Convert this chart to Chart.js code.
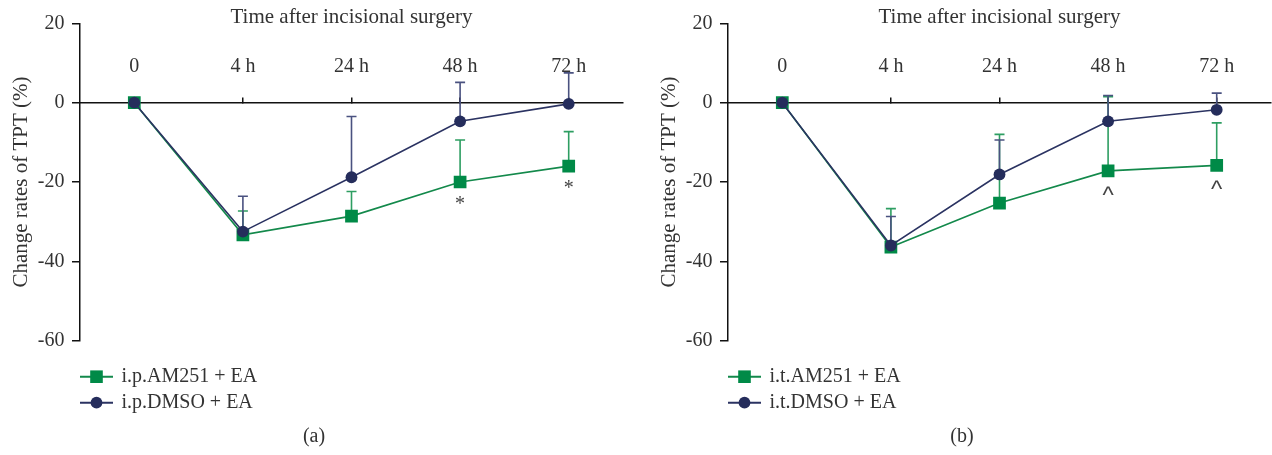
<!DOCTYPE html>
<html>
<head>
<meta charset="utf-8">
<script src="https://cdn.jsdelivr.net/npm/chart.js@4.4.1/dist/chart.umd.min.js"></script>
<style>
  html, body { margin: 0; padding: 0; background: #fff; overflow: hidden; width: 1272px; height: 455px; position: relative; }
  .panel { position: absolute; top: 0; width: 632px; height: 455px; }
  #panelA { left: 0; }
  #panelB { left: 648px; }
</style>
</head>
<body>
<div class="panel" id="panelA"><canvas id="chartA"></canvas></div>
<div class="panel" id="panelB"><canvas id="chartB"></canvas></div>
<script>
// Time points after incisional surgery
const timePoints = ['0', '4 h', '24 h', '48 h', '72 h'];
const yTickValues = [-60, -40, -20, 0, 20];

// (a) intraperitoneal injection: mean change rate of TPT (%) and upper SD
const ipAM251 = [0, -33.3, -28.6, -20.0, -16.0];
const ipAM251Err = [0, 6.0, 6.2, 10.6, 8.7];
const ipDMSO = [0, -32.5, -18.8, -4.7, -0.3];
const ipDMSOErr = [0, 8.9, 15.3, 9.8, 7.8];
const ipMarks = ['', '', '', '*', '*'];

// (b) intrathecal injection
const itAM251 = [0, -36.4, -25.3, -17.2, -15.8];
const itAM251Err = [0, 9.7, 17.3, 18.7, 10.7];
const itDMSO = [0, -36.0, -18.1, -4.7, -1.8];
const itDMSOErr = [0, 7.3, 8.7, 6.5, 4.2];
const itMarks = ['', '', '', '^', '^'];

const SERIF = "'Liberation Serif', 'DejaVu Serif', serif";
const TEXT = '#333333';
const GREEN = '#008a47';
const GREEN_LINE = '#13894b';
const GREEN_ERR = '#2e9e62';
const NAVY = '#252d5c';
const NAVY_LINE = '#2b3362';
const NAVY_ERR = '#4a5280';

Chart.defaults.font.family = SERIF;
Chart.defaults.color = TEXT;

// Upper error bars with caps, drawn beneath the markers
const errorBarPlugin = {
  id: 'errorBars',
  beforeDatasetsDraw(chart, args, opts) {
    const ctx = chart.ctx;
    const xs = chart.scales.x, ys = chart.scales.y;
    ctx.save();
    opts.errors.forEach((errs, i) => {
      const data = chart.data.datasets[i].data;
      ctx.strokeStyle = opts.colors[i];
      ctx.lineWidth = 1.6;
      errs.forEach((e, j) => {
        if (!e) return;
        const x = xs.getPixelForValue(j);
        const y0 = ys.getPixelForValue(data[j]);
        const y1 = ys.getPixelForValue(data[j] + e);
        ctx.beginPath();
        ctx.moveTo(x, y0);
        ctx.lineTo(x, y1);
        ctx.moveTo(x - 5, y1);
        ctx.lineTo(x + 5, y1);
        ctx.stroke();
      });
    });
    ctx.restore();
  }
};

// Significance marks placed below the first series
const sigMarkPlugin = {
  id: 'sigMarks',
  afterDatasetsDraw(chart, args, opts) {
    const ctx = chart.ctx;
    const xs = chart.scales.x, ys = chart.scales.y;
    const data = chart.data.datasets[0].data;
    ctx.save();
    ctx.fillStyle = opts.color;
    ctx.font = opts.font;
    ctx.textAlign = 'center';
    ctx.textBaseline = 'alphabetic';
    opts.text.forEach((t, j) => {
      if (!t) return;
      ctx.fillText(t, xs.getPixelForValue(j), ys.getPixelForValue(data[j]) + opts.offset);
    });
    ctx.restore();
  }
};

// Line-and-marker legend stacked under the plot
const stackedLegendPlugin = {
  id: 'stackedLegend',
  afterDraw(chart, args, opts) {
    const ctx = chart.ctx;
    const left = chart.chartArea.left;
    ctx.save();
    chart.data.datasets.forEach((ds, i) => {
      const y = chart.chartArea.bottom + opts.top + i * opts.rowGap;
      ctx.strokeStyle = ds.borderColor;
      ctx.lineWidth = 2;
      ctx.beginPath();
      ctx.moveTo(left, y);
      ctx.lineTo(left + 33, y);
      ctx.stroke();
      ctx.fillStyle = ds.pointBackgroundColor;
      const cx = left + 16.5;
      if (ds.pointStyle === 'rect') {
        ctx.fillRect(cx - 6.3, y - 6.3, 12.6, 12.6);
      } else {
        ctx.beginPath();
        ctx.arc(cx, y, 5.9, 0, Math.PI * 2);
        ctx.fill();
      }
      ctx.fillStyle = TEXT;
      ctx.font = '20px ' + SERIF;
      ctx.textAlign = 'left';
      ctx.textBaseline = 'middle';
      ctx.fillText(ds.label, left + 41.5, y);
    });
    ctx.restore();
  }
};

function makeChart(canvasId, names, series, errors, marks, panelLabel, markFont, markOffset) {
  return new Chart(document.getElementById(canvasId), {
    type: 'line',
    data: {
      labels: timePoints,
      datasets: [
        {
          label: names[0], data: series[0], order: 2,
          borderColor: GREEN_LINE, borderWidth: 1.6,
          pointStyle: 'rect', pointRadius: 9, pointBorderWidth: 0,
          pointBackgroundColor: GREEN, backgroundColor: GREEN, tension: 0
        },
        {
          label: names[1], data: series[1], order: 1,
          borderColor: NAVY_LINE, borderWidth: 1.6,
          pointStyle: 'circle', pointRadius: 5.9, pointBorderWidth: 0,
          pointBackgroundColor: NAVY, backgroundColor: NAVY, tension: 0
        }
      ]
    },
    options: {
      responsive: true,
      maintainAspectRatio: false,
      animation: false,
      events: [],
      layout: { padding: { left: 0, right: 4, top: 0, bottom: 0 } },
      scales: {
        x: {
          type: 'category',
          position: { y: 0 },
          offset: true,
          grid: { display: true, drawOnChartArea: false, drawTicks: true, tickLength: -6, offset: false, color: '#111', lineWidth: 1.5 },
          border: { display: true, color: '#111', width: 1.5 },
          ticks: { padding: -41.7, maxRotation: 0, autoSkip: false, color: TEXT, font: { size: 20 } }
        },
        y: {
          min: -60, max: 20,
          afterFit(scale) { scale.width = 80; },
          afterBuildTicks(scale) { scale.ticks = yTickValues.map(v => ({ value: v })); },
          grid: { display: true, drawOnChartArea: false, drawTicks: true, tickLength: 8, color: '#111', lineWidth: 1.5 },
          border: { display: true, color: '#111', width: 1.5 },
          ticks: { padding: 7.5, color: TEXT, font: { size: 20 } },
          title: { display: true, text: 'Change rates of TPT (%)', color: TEXT, font: { size: 21 }, padding: { top: 8.4, bottom: 0 } }
        }
      },
      plugins: {
        legend: { display: false },
        tooltip: { enabled: false },
        title: {
          display: true, text: 'Time after incisional surgery', position: 'top', fullSize: false,
          color: TEXT, font: { size: 21, weight: 'normal' }, padding: { top: 4.4, bottom: -6.3 }
        },
        subtitle: {
          display: true, text: panelLabel, position: 'bottom',
          color: TEXT, font: { size: 20, weight: 'normal' }, padding: { top: 84.3, bottom: 6 }
        },
        errorBars: { errors: errors, colors: [GREEN_ERR, NAVY_ERR] },
        sigMarks: { text: marks, color: '#444', font: markFont, offset: markOffset },
        stackedLegend: { top: 36, rowGap: 26 }
      }
    },
    plugins: [errorBarPlugin, sigMarkPlugin, stackedLegendPlugin]
  });
}

makeChart('chartA', ['i.p.AM251 + EA', 'i.p.DMSO + EA'], [ipAM251, ipDMSO], [ipAM251Err, ipDMSOErr],
  ipMarks, '(a)', '20px ' + SERIF, 27.5);
makeChart('chartB', ['i.t.AM251 + EA', 'i.t.DMSO + EA'], [itAM251, itDMSO], [itAM251Err, itDMSOErr],
  itMarks, '(b)', "24px 'Liberation Sans', sans-serif", 32);
</script>
</body>
</html>
